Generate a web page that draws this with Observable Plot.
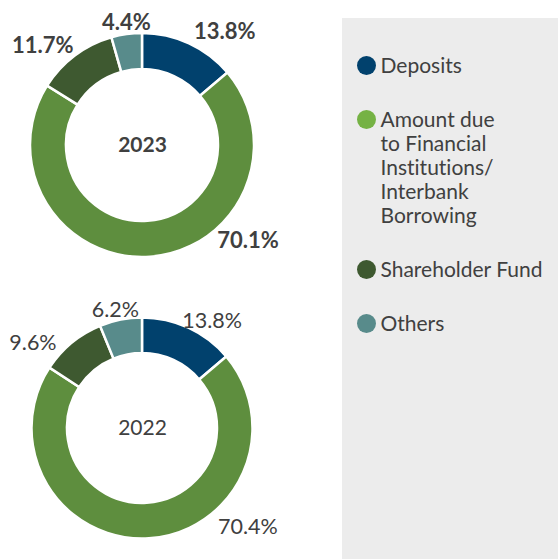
<!DOCTYPE html>
<html>
<head>
<meta charset="utf-8">
<script src="https://cdn.jsdelivr.net/npm/d3@7"></script>
<script src="https://cdn.jsdelivr.net/npm/@observablehq/plot@0.6"></script>
<style>
  html, body { margin: 0; padding: 0; background: #ffffff; }
  #chart svg { display: block; }
  #chart text { font-variant-ligatures: none; font-feature-settings: "liga" 0; }
</style>
</head>
<body>
<div id="chart"></div>
<script>
// ---------- data ----------
const categories = ["Deposits", "Amount due to Financial Institutions/Interbank Borrowing", "Shareholder Fund", "Others"];
const legendLabels = ["Deposits", "Amount due\nto Financial\nInstitutions/\nInterbank\nBorrowing", "Shareholder Fund", "Others"];
const years = ["2023", "2022"];
const values2023 = [13.8, 70.1, 11.7, 4.4];
const values2022 = [13.8, 70.4, 9.6, 6.2];

// ---------- styling / layout ----------
const sliceColors = ["#01416d", "#5e8e3e", "#3e5930", "#588b8b"];
const legendColors = ["#01416d", "#75b244", "#3e5930", "#588b8b"];
const textColor = "#404040";
const W = 558, H = 559;
const donuts = [
  {year: years[0], values: values2023, cx: 142, cy: 145, rOuter: 112, rInner: 76, weight: "bold",
   labelPolar: [[36, 140], [132, 142], [315, 141], [352.5, 124]]},
  {year: years[1], values: values2022, cx: 142, cy: 428, rOuter: 110.5, rInner: 75, weight: "normal",
   labelPolar: [[33, 128], [133, 144], [308, 139], [347, 121]]}
];
const font = "Lato, 'Open Sans', sans-serif";

// label table
const labelRows = donuts.flatMap(d => d.values.map((v, i) => {
  const [ang, r] = d.labelPolar[i];
  const a = ang * Math.PI / 180;
  return {text: v.toFixed(1) + "%", x: d.cx + r * Math.sin(a), y: d.cy - r * Math.cos(a), weight: d.weight};
}));
const centerRows = donuts.map(d => ({text: d.year, x: d.cx, y: d.cy, weight: d.weight}));

// legend table
const lineStep = 24, itemGap = 54;
let ly = 65;
const legendRows = categories.map((c, i) => {
  const lines = legendLabels[i].split("\n").length;
  const row = {label: legendLabels[i], color: legendColors[i], y: ly, yc: ly + (lines - 1) * lineStep / 2};
  ly += (lines - 1) * lineStep + itemGap;
  return row;
});

function donutMark(d) {
  return (index, scales) => {
    const g = d3.create("svg:g")
      .attr("transform", `translate(${scales.x(d.cx)},${scales.y(d.cy)})`);
    const arcs = d3.pie().sort(null).value(v => v)(d.values);
    const arc = d3.arc().innerRadius(d.rInner).outerRadius(d.rOuter);
    g.selectAll("path").data(arcs).join("path")
      .attr("d", arc)
      .attr("fill", (a, i) => sliceColors[i])
      .attr("stroke", "#ffffff")
      .attr("stroke-width", 2.5)
      .attr("stroke-linejoin", "miter");
    return g.node();
  };
}

const chart = Plot.plot({
  width: W, height: H, margin: 0,
  x: {type: "identity", axis: null},
  y: {type: "identity", axis: null},
  style: {fontFamily: font, background: "#ffffff"},
  marks: [
    Plot.rect([{x1: 342, x2: 558, y1: 18, y2: 559}], {x1: "x1", x2: "x2", y1: "y1", y2: "y2", fill: "#ececec"}),
    ...donuts.map(donutMark),
    Plot.text(labelRows.filter(d => d.weight === "bold"), {x: "x", y: "y", text: "text", fill: textColor, fontSize: 22, fontWeight: "bold", fontFamily: font}),
    Plot.text(labelRows.filter(d => d.weight !== "bold"), {x: "x", y: "y", text: "text", fill: textColor, fontSize: 21.5, fontWeight: "normal", fontFamily: font}),
    Plot.text(centerRows.filter(d => d.weight === "bold"), {x: "x", y: "y", text: "text", fill: textColor, fontSize: 21, fontWeight: "bold", fontFamily: font}),
    Plot.text(centerRows.filter(d => d.weight !== "bold"), {x: "x", y: "y", text: "text", fill: textColor, fontSize: 21, fontWeight: "normal", fontFamily: font}),
    Plot.dot(legendRows, {x: () => 366, y: "y", r: 9.5, fill: "color", stroke: null}),
    Plot.text(legendRows, {x: () => 380, y: "yc", text: "label", textAnchor: "start", lineHeight: lineStep / 21, fill: textColor, fontSize: 21, fontFamily: font, style: "letter-spacing:0.2px"})
  ]
});
document.getElementById("chart").appendChild(chart);
</script>
</body>
</html>
